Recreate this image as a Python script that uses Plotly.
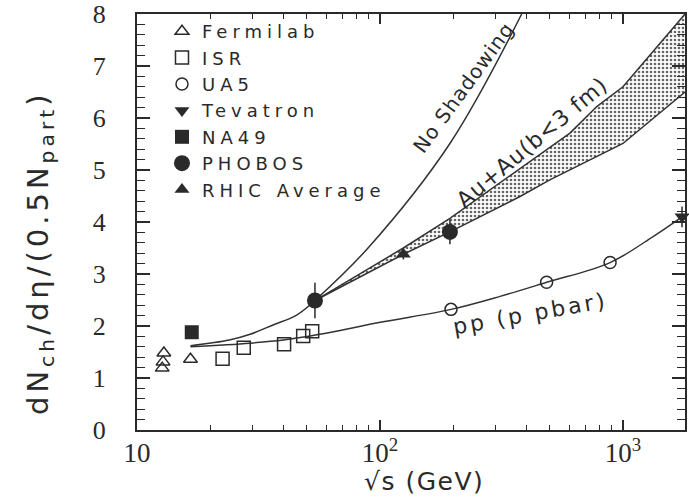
import math
import plotly.graph_objects as go

# ---------------- data ----------------
fermilab_x = [12.9, 12.8, 12.7, 16.6]
fermilab_y = [1.48, 1.31, 1.19, 1.36]

isr_x = [22.5, 27.5, 40.3, 48.3, 52.6]
isr_y = [1.37, 1.58, 1.65, 1.81, 1.90]

ua5_x = [196, 485, 885]
ua5_y = [2.32, 2.84, 3.22]

tevatron_x = [1750]
tevatron_y = [4.10]
tevatron_err = [0.20]

na49_x = [16.8]
na49_y = [1.88]

phobos_x = [54, 194]
phobos_y = [2.49, 3.81]
phobos_err = [0.34, 0.24]

rhic_x = [124.8]
rhic_y = [3.38]
rhic_err = [0.10]

# curves
pp_x = [16.6, 29.2, 40, 55, 103, 196, 312, 485, 885, 1330, 1750]
pp_y = [1.60, 1.67, 1.73, 1.83, 2.08, 2.32, 2.57, 2.84, 3.22, 3.72, 4.10]

trend_x = [16.6, 24, 29.2, 36.3, 45.4, 54]
trend_y = [1.62, 1.73, 1.84, 2.02, 2.21, 2.49]

noshadow_x = [54, 89.3, 194, 383]
noshadow_y = [2.49, 3.50, 5.51, 8.00]

band_low_x = [54, 124.8, 194, 377, 500, 1000, 1800]
band_low_y = [2.49, 3.38, 3.81, 4.49, 4.81, 5.51, 6.50]

band_up_x = [54, 124.8, 194, 402, 605, 780, 1000, 1800]
band_up_y = [2.49, 3.50, 4.07, 5.13, 5.71, 6.22, 6.60, 8.00]

x_tick_vals = [10, 100, 1000]
x_tick_text = ["10", "10<sup>2</sup>", "10<sup>3</sup>"]
x_minor_vals = [20, 30, 40, 50, 60, 70, 80, 90,
                200, 300, 400, 500, 600, 700, 800, 900]


def spaced(text, px):
    return '<span style="letter-spacing:%spx">%s</span>' % (px, text)


# ---------------- styling ----------------
INK = "#2a2a2a"
LINE = "#333333"
SANS = "DejaVu Sans"
SERIF = "Liberation Serif"

fig = go.Figure()

# Au+Au band (lower edge, then upper edge filled to it)
fig.add_trace(go.Scatter(x=band_low_x, y=band_low_y, mode="lines",
                         line=dict(color=LINE, width=1.5),
                         showlegend=False, hoverinfo="skip"))
fig.add_trace(go.Scatter(x=band_up_x, y=band_up_y, mode="lines",
                         line=dict(color=LINE, width=1.5),
                         fill="tonexty", fillcolor="rgba(255,255,255,0)",
                         fillpattern=dict(shape=".", size=4, solidity=0.35,
                                          fgcolor="#666666", bgcolor="white"),
                         showlegend=False, hoverinfo="skip"))

# common low-energy trend and No shadowing curve
fig.add_trace(go.Scatter(x=trend_x, y=trend_y, mode="lines",
                         line=dict(color=LINE, width=1.5, shape="spline"),
                         showlegend=False, hoverinfo="skip"))
fig.add_trace(go.Scatter(x=noshadow_x, y=noshadow_y, mode="lines",
                         line=dict(color=LINE, width=1.5, shape="spline"),
                         showlegend=False, hoverinfo="skip"))
# pp curve
fig.add_trace(go.Scatter(x=pp_x, y=pp_y, mode="lines",
                         line=dict(color=LINE, width=1.5, shape="spline"),
                         showlegend=False, hoverinfo="skip"))

LS = 5  # legend letter spacing
# data points
fig.add_trace(go.Scatter(x=fermilab_x, y=fermilab_y, mode="markers",
                         name=spaced("Fermilab", LS),
                         marker=dict(symbol="triangle-up-open", size=12,
                                     color=INK, line=dict(width=1.5, color=INK))))
fig.add_trace(go.Scatter(x=isr_x, y=isr_y, mode="markers",
                         name=spaced("ISR", LS),
                         marker=dict(symbol="square-open", size=13,
                                     color=INK, line=dict(width=1.5, color=INK))))
fig.add_trace(go.Scatter(x=ua5_x, y=ua5_y, mode="markers",
                         name=spaced("UA5", LS),
                         marker=dict(symbol="circle-open", size=12,
                                     color=INK, line=dict(width=1.5, color=INK))))
fig.add_trace(go.Scatter(x=tevatron_x, y=tevatron_y, mode="markers",
                         name=spaced("Tevatron", LS),
                         error_y=dict(type="data", array=tevatron_err, width=0,
                                      thickness=1.5, color=INK),
                         marker=dict(symbol="triangle-down", size=13, color=INK),
                         cliponaxis=False))
fig.add_trace(go.Scatter(x=na49_x, y=na49_y, mode="markers",
                         name=spaced("NA49", LS),
                         marker=dict(symbol="square", size=14, color=INK)))
fig.add_trace(go.Scatter(x=phobos_x, y=phobos_y, mode="markers",
                         name=spaced("PHOBOS", LS),
                         error_y=dict(type="data", array=phobos_err, width=0,
                                      thickness=1.5, color=INK),
                         marker=dict(symbol="circle", size=16, color=INK)))
fig.add_trace(go.Scatter(x=rhic_x, y=rhic_y, mode="markers",
                         name=spaced("RHIC Average", LS),
                         error_y=dict(type="data", array=rhic_err, width=0,
                                      thickness=1.5, color=INK),
                         marker=dict(symbol="triangle-up", size=13, color=INK)))

# curve labels
fig.add_annotation(x=math.log10(220), y=6.58, xref="x", yref="y",
                   text=spaced("No Shadowing", 1), showarrow=False, textangle=-54,
                   font=dict(family=SANS, size=20, color=INK))
fig.add_annotation(x=math.log10(423), y=5.52, xref="x", yref="y",
                   text=spaced("Au+Au(b<3 fm)", 1), showarrow=False, textangle=-40,
                   font=dict(family=SANS, size=22, color=INK))
fig.add_annotation(x=math.log10(418), y=2.25, xref="x", yref="y",
                   text=spaced("pp (p pbar)", 3), showarrow=False, textangle=-10,
                   font=dict(family=SANS, size=22, color=INK))

# axis titles as annotations (positioned like the reference)
fig.add_annotation(x=-0.177, y=0.4255, xref="paper", yref="paper",
                   xanchor="center", yanchor="middle",
                   text=spaced("dN<sub>ch</sub>/dη/(0.5N<sub>part</sub>)", 4),
                   showarrow=False, textangle=-90,
                   font=dict(family=SANS, size=29, color=INK))
fig.add_annotation(x=0.524, y=-0.124, xref="paper", yref="paper",
                   xanchor="center", yanchor="middle",
                   text=spaced("√s (GeV)", 1.5), showarrow=False,
                   font=dict(family=SANS, size=25, color=INK))

fig.update_layout(
    template="none",
    width=689, height=501,
    margin=dict(l=137, r=4, t=14, b=71),
    paper_bgcolor="white", plot_bgcolor="white",
    showlegend=True,
    legend=dict(x=0.0456, y=1.0024, xanchor="left", yanchor="top",
                traceorder="normal",
                bgcolor="rgba(255,255,255,0)", borderwidth=0,
                font=dict(family=SANS, size=18, color=INK),
                itemsizing="trace"),
    xaxis=dict(type="log", range=[1, math.log10(1800)], automargin=False,
               tickvals=x_tick_vals, ticktext=x_tick_text,
               ticks="inside", ticklen=10, tickwidth=1.5, tickcolor=INK,
               showline=True, linewidth=2, linecolor=INK, mirror="ticks",
               showgrid=False, zeroline=False,
               ticklabelstandoff=-2, ticklabeloverflow="allow",
               tickfont=dict(family=SERIF, size=27, color=INK),
               minor=dict(tickvals=x_minor_vals, ticks="inside", ticklen=5,
                          tickwidth=1.2, tickcolor=INK, showgrid=False)),
    yaxis=dict(range=[0, 8], dtick=1, automargin=False,
               ticks="inside", ticklen=13, tickwidth=1.5, tickcolor=INK,
               showline=True, linewidth=2, linecolor=INK, mirror="ticks",
               showgrid=False, zeroline=False,
               ticklabelstandoff=24, ticklabeloverflow="allow",
               tickfont=dict(family=SERIF, size=26, color=INK),
               minor=dict(dtick=0.2, ticks="inside", ticklen=8,
                          tickwidth=1.2, tickcolor=INK, showgrid=False)),
)

fig.write_html("out.html",
               config={"displayModeBar": False},
               post_script="document.body.style.margin='0px';")
